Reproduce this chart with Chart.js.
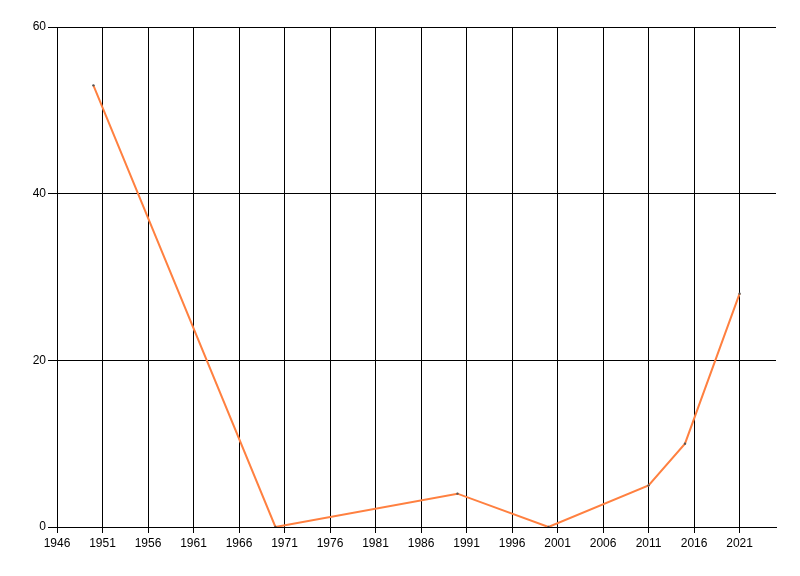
<!DOCTYPE html>
<html>
<head>
<meta charset="utf-8">
<script src="https://cdn.jsdelivr.net/npm/chart.js@4/dist/chart.umd.min.js"></script>
<style>
  html, body { margin: 0; padding: 0; background: #fff; }
  #wrap { width: 800px; height: 576px; position: relative; }
</style>
</head>
<body>
<div id="wrap"><canvas id="c" width="800" height="576"></canvas></div>
<script>
const years = [1950, 1970, 1990, 2000, 2011, 2015, 2021];
const values = [53, 0, 4, 0, 5, 10, 28];
const xTickYears = [1946, 1951, 1956, 1961, 1966, 1971, 1976, 1981, 1986, 1991, 1996, 2001, 2006, 2011, 2016, 2021];
const yTicks = [0, 20, 40, 60];

const points = years.map((y, i) => ({ x: y, y: values[i] }));
const font = { family: "'Liberation Sans', Arial, sans-serif", size: 12 };

new Chart(document.getElementById('c'), {
  type: 'line',
  data: {
    datasets: [{
      data: points,
      borderColor: 'rgb(255,128,64)',
      borderWidth: 2,
      pointRadius: 1.2,
      pointBackgroundColor: '#555',
      pointBorderColor: '#555',
      pointBorderWidth: 0,
      tension: 0,
      fill: false
    }]
  },
  options: {
    responsive: false,
    animation: false,
    devicePixelRatio: 1,
    layout: { padding: { top: 27, right: 24, bottom: 0, left: 0 } },
    plugins: { legend: { display: false }, tooltip: { enabled: false } },
    scales: {
      x: {
        type: 'linear',
        min: 1946,
        max: 2025,
        afterBuildTicks: (scale) => { scale.ticks = xTickYears.map(v => ({ value: v })); },
        afterFit: (scale) => { scale.height = 49; },
        ticks: { color: '#000', font: font, padding: 3, maxRotation: 0, autoSkip: false, callback: (v) => String(v) },
        grid: { color: '#000', lineWidth: 1, tickLength: 6, drawOnChartArea: true },
        border: { color: '#000', width: 1 }
      },
      y: {
        type: 'linear',
        min: 0,
        max: 60,
        afterBuildTicks: (scale) => { scale.ticks = yTicks.map(v => ({ value: v })); },
        afterFit: (scale) => { scale.width = 57; },
        ticks: { color: '#000', font: font, padding: 2 },
        grid: { color: '#000', lineWidth: 1, tickLength: 9 },
        border: { color: '#000', width: 1 }
      }
    }
  }
});
</script>
</body>
</html>
